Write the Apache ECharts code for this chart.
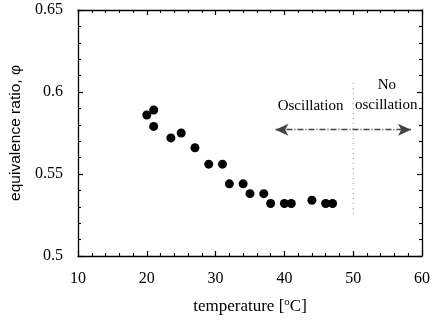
<!DOCTYPE html>
<html>
<head>
<meta charset="utf-8">
<script src="https://cdn.jsdelivr.net/npm/echarts@6/dist/echarts.min.js"></script>
<style>
  html, body { margin: 0; padding: 0; background: #fff; }
  #chart { width: 433px; height: 320px; }
</style>
</head>
<body>
<div id="chart"></div>
<script>
// temperature [°C] vs equivalence ratio
const temperature = [20, 21, 21, 23.5, 25, 27, 29, 31, 32, 34, 35, 37, 38, 40, 41, 44, 46, 47];
const phi = [0.586, 0.589, 0.579, 0.572, 0.575, 0.566, 0.556, 0.556, 0.544, 0.544, 0.538, 0.538, 0.532, 0.532, 0.532, 0.534, 0.532, 0.532];

// boundary at 50 °C and the double arrow
const boundaryX = 50;
const boundaryY = [0.5255, 0.6057];
const arrowX = [38.7, 58.4];
const arrowY = 0.577;

// annotation labels
const noteText = ["Oscillation", "No", "oscillation"];
const noteX = [43.8, 54.9, 54.8];
const noteY = [0.5913, 0.6045, 0.5923];

const font = "Liberation Serif";

const chart = echarts.init(document.getElementById("chart"));

const tickCommon = {
  axisLine: { show: true, onZero: false, lineStyle: { color: "#000", width: 1.3 } },
  axisTick: { show: true, inside: true, length: 5, lineStyle: { color: "#000", width: 1.2 } },
  minorTick: { show: true, splitNumber: 5, length: 3, lineStyle: { color: "#000", width: 1.1 } },
  splitLine: { show: false },
};

const option = {
  animation: false,
  grid: { left: 78, right: 9, top: 10, bottom: 63 },
  xAxis: [
    {
      type: "value", min: 10, max: 60, interval: 10, position: "bottom",
      ...tickCommon,
      axisLabel: { color: "#000", fontFamily: font, fontSize: 16, margin: 15 },
      name: "temperature [{sup|o}C]",
      nameLocation: "middle",
      nameGap: 41,
      nameTextStyle: {
        color: "#000", fontFamily: font, fontSize: 17,
        rich: { sup: { fontFamily: font, fontSize: 11, verticalAlign: "top", padding: [0, 0, 8, 0] } },
      },
    },
    {
      type: "value", min: 10, max: 60, interval: 10, position: "top",
      ...tickCommon,
      axisLabel: { show: false },
    },
  ],
  yAxis: [
    {
      type: "value", min: 0.5, max: 0.65, interval: 0.05, position: "left",
      ...tickCommon,
      axisLabel: { color: "#000", fontFamily: font, fontSize: 16, margin: 15 },
      name: "equivalence ratio, φ",
      nameLocation: "middle",
      nameGap: 50,
      nameTextStyle: { color: "#000", fontFamily: "Liberation Sans", fontSize: 15.5 },
    },
    {
      type: "value", min: 0.5, max: 0.65, interval: 0.05, position: "right",
      ...tickCommon,
      axisLabel: { show: false },
    },
  ],
  series: [
    {
      type: "scatter",
      data: temperature.map((t, i) => [t, phi[i]]),
      symbol: "circle",
      symbolSize: 9,
      itemStyle: { color: "#000", opacity: 1 },
      markLine: {
        silent: true,
        symbol: ["arrow", "arrow"],
        symbolSize: [9, 13],
        label: { show: false },
        lineStyle: { color: "#444", width: 1.3, type: [6, 2, 1, 2] },
        data: [
          [{ coord: [arrowX[0], arrowY] }, { coord: [arrowX[1], arrowY] }],
        ],
      },
    },
    {
      type: "line",
      data: boundaryY.map((y) => [boundaryX, y]),
      symbol: "none",
      lineStyle: { color: "#888", width: 1, type: [1, 4] },
    },
    {
      type: "scatter",
      data: noteText.map((s, i) => [noteX[i], noteY[i]]),
      symbolSize: 0,
      itemStyle: { opacity: 1 },
      label: {
        show: true,
        position: "inside",
        color: "#000",
        fontFamily: font,
        fontSize: 15,
        formatter: (p) => noteText[p.dataIndex],
      },
    },
  ],
};

chart.setOption(option);
</script>
</body>
</html>
